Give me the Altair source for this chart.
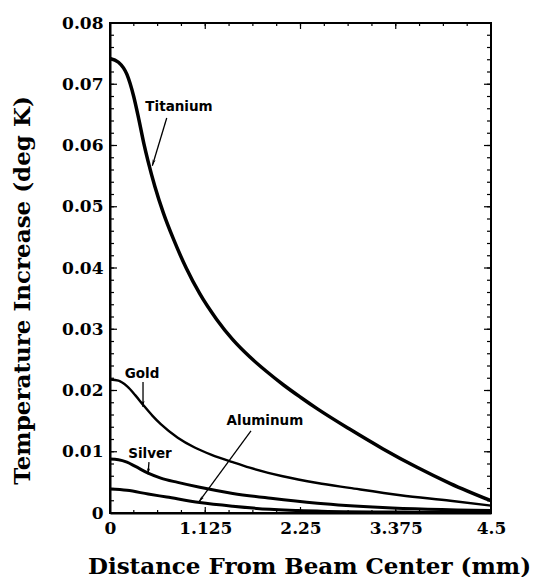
import math
import altair as alt
import pandas as pd

# ---------------- data ----------------
ti_x = [0, 0.1, 0.2, 0.28, 0.34, 0.4, 0.45, 0.53, 0.63, 0.75, 0.9, 1.06, 1.26, 1.45, 1.65, 1.85, 2.05, 2.25, 2.45, 2.83, 3.22, 3.62, 4.02, 4.5]
ti_y = [0.0742, 0.0736, 0.0716, 0.0680, 0.0643, 0.0603, 0.0574, 0.0533, 0.0490, 0.0447, 0.0400, 0.0358, 0.0316, 0.0283, 0.0255, 0.0231, 0.0209, 0.0189, 0.0170, 0.0137, 0.0105, 0.0075, 0.0048, 0.0020]

au_x = [0, 0.1, 0.2, 0.3, 0.4, 0.5, 0.6, 0.8, 1.0, 1.2, 1.45, 1.65, 2.04, 2.45, 2.83, 3.43, 4.02, 4.5]
au_y = [0.0218, 0.0216, 0.0207, 0.0192, 0.0175, 0.0159, 0.0145, 0.0123, 0.0107, 0.0095, 0.0083, 0.0074, 0.0060, 0.0049, 0.0041, 0.0029, 0.0020, 0.0012]

ag_x = [0, 0.1, 0.2, 0.3, 0.45, 0.6, 0.8, 1.06, 1.45, 1.9, 2.45, 3.22, 4.5]
ag_y = [0.0088, 0.0087, 0.0083, 0.0076, 0.0065, 0.0057, 0.0050, 0.0042, 0.0032, 0.0024, 0.0016, 0.0009, 0.0004]

al_x = [0, 0.2, 0.45, 0.67, 1.06, 1.45, 1.89, 2.5, 3.4, 4.5]
al_y = [0.0039, 0.0037, 0.0031, 0.0026, 0.0017, 0.0011, 0.0006, 0.0003, 0.00015, 0.0001]

x_tick_labels = [0, 1.125, 2.25, 3.375, 4.5]
y_tick_labels = [0, 0.01, 0.02, 0.03, 0.04, 0.05, 0.06, 0.07, 0.08]
x_minor = [0.28125 * i for i in range(17)]
y_minor = [0.002 * i for i in range(41)]

ann_text = ["Titanium", "Gold", "Silver", "Aluminum"]
ann_tx = [0.815, 0.378, 0.472, 1.83]
ann_ty = [0.0656, 0.0220, 0.0090, 0.0144]
arr_x1 = [0.67, 0.39, 0.46, 1.665]
arr_y1 = [0.0645, 0.0214, 0.0083, 0.0134]
arr_x2 = [0.50, 0.39, 0.45, 1.05]
arr_y2 = [0.0567, 0.0173, 0.0063, 0.0018]

# ---------------- layout ----------------
W, H = 381, 490
XMAX, YMAX = 4.5, 0.08
SERIF = "DejaVu Serif"
SANS = "DejaVu Sans"

widths = {"Titanium": 3.5, "Gold": 2.4, "Silver": 3.0, "Aluminum": 3.0}
series = [("Titanium", ti_x, ti_y), ("Gold", au_x, au_y), ("Silver", ag_x, ag_y), ("Aluminum", al_x, al_y)]
lines_df = pd.concat(
    [pd.DataFrame({"x": xs, "y": ys, "metal": name, "w": widths[name]}) for name, xs, ys in series],
    ignore_index=True,
)

xs = alt.Scale(domain=[0, XMAX], nice=False, zero=False)
ys = alt.Scale(domain=[0, YMAX], nice=False, zero=False)

x_axis = alt.Axis(
    values=x_tick_labels, ticks=False, grid=False, domain=True, domainColor="black", domainWidth=2,
    labelFont=SERIF, labelFontWeight="bold", labelFontSize=17, labelColor="black",
    labelPadding=7, labelFlush=False, labelOverlap=False, labelBound=False,
    labelExpr="'' + datum.value",
    title="Distance From Beam Center (mm)", titleFont=SERIF, titleFontWeight="bold", titleFontSize=23,
    titleColor="black", titleX=199, titleY=60, titleAlign="center", titleBaseline="alphabetic",
)
y_axis = alt.Axis(
    values=y_tick_labels, ticks=False, grid=False, domain=True, domainColor="black", domainWidth=2,
    labelFont=SERIF, labelFontWeight="bold", labelFontSize=17, labelColor="black",
    labelPadding=7, labelFlush=False, labelOverlap=False, labelBound=False,
    labelExpr="datum.value == 0 ? '0' : format(datum.value, '.2f')",
    title="Temperature Increase (deg K)", titleFont=SERIF, titleFontWeight="bold", titleFontSize=23,
    titleColor="black", titleX=-88, titleY=267, titleAngle=270, titleAlign="center", titleBaseline="middle",
)

lines = alt.Chart(lines_df).mark_line(interpolate="monotone", color="black", strokeCap="butt").encode(
    x=alt.X("x:Q", scale=xs, axis=x_axis),
    y=alt.Y("y:Q", scale=ys, axis=y_axis),
    detail="metal:N",
    strokeWidth=alt.StrokeWidth("w:Q", scale=None, legend=None),
)


def side_ticks(values, length, side):
    df = pd.DataFrame({"v": values})
    m = alt.Chart(df).mark_rule(color="black", strokeWidth=1.2)
    if side == "left":
        return m.encode(y=alt.Y("v:Q", scale=ys), x=alt.value(0), x2=alt.value(length))
    if side == "right":
        return m.encode(y=alt.Y("v:Q", scale=ys), x=alt.value(W - length), x2=alt.value(W))
    if side == "top":
        return m.encode(x=alt.X("v:Q", scale=xs), y=alt.value(0), y2=alt.value(length))
    return m.encode(x=alt.X("v:Q", scale=xs), y=alt.value(H - length), y2=alt.value(H))


tick_layers = []
for side in ["left", "right"]:
    tick_layers.append(side_ticks(y_minor, 4, side))
    tick_layers.append(side_ticks(y_tick_labels, 7, side))
for side in ["top", "bottom"]:
    tick_layers.append(side_ticks(x_minor, 3, side))
    tick_layers.append(side_ticks(x_tick_labels, 6, side))

ann_df = pd.DataFrame({"label": ann_text, "x": ann_tx, "y": ann_ty})
texts = alt.Chart(ann_df).mark_text(
    font=SANS, fontWeight="bold", fontSize=13.5, color="black", align="center", baseline="alphabetic"
).encode(x=alt.X("x:Q", scale=xs), y=alt.Y("y:Q", scale=ys), text="label:N")

angles = []
for a, b, c, d in zip(arr_x1, arr_y1, arr_x2, arr_y2):
    dx = (c - a) / XMAX * W
    dy = -(d - b) / YMAX * H
    angles.append(math.degrees(math.atan2(-dx, dy)) % 360)

arr_df = pd.DataFrame({"x1": arr_x1, "y1": arr_y1, "x2": arr_x2, "y2": arr_y2, "ang": angles})
shafts = alt.Chart(arr_df).mark_rule(color="black", strokeWidth=1.3).encode(
    x=alt.X("x1:Q", scale=xs), y=alt.Y("y1:Q", scale=ys), x2="x2:Q", y2="y2:Q"
)
heads = alt.Chart(arr_df).mark_point(
    shape="M 0 0 L -0.45 -1.9 L 0 -1.4 L 0.45 -1.9 Z", filled=True, color="black", opacity=1, size=45
).encode(
    x=alt.X("x2:Q", scale=xs), y=alt.Y("y2:Q", scale=ys), angle=alt.Angle("ang:Q", scale=None)
)

chart = alt.layer(lines, *tick_layers, shafts, heads, texts).properties(
    width=W, height=H,
    autosize=alt.AutoSizeParams(type="none"),
    padding={"left": 102, "top": 15, "right": 40, "bottom": 64},
).configure_view(stroke="black", strokeWidth=2)

chart.save("out.html", embed_options={"renderer": "svg", "actions": False})
